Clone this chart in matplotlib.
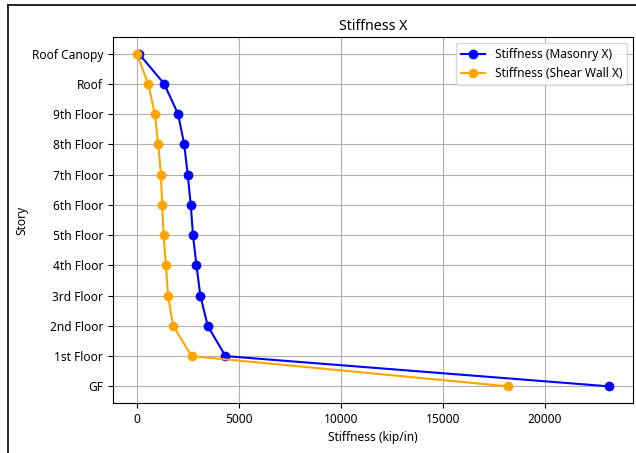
import matplotlib
matplotlib.use("Agg")
import matplotlib.pyplot as plt
from matplotlib.lines import Line2D

stories = ["GF", "1st Floor", "2nd Floor", "3rd Floor", "4th Floor", "5th Floor",
           "6th Floor", "7th Floor", "8th Floor", "9th Floor", "Roof", "Roof Canopy"]
masonry_x = [23150, 4350, 3480, 3120, 2930, 2760, 2650, 2500, 2330, 2030, 1350, 110]
shear_wall_x = [18190, 2690, 1790, 1540, 1430, 1320, 1250, 1190, 1060, 890, 570, 0]

plt.rcParams['font.family'] = ['Noto Sans', 'DejaVu Sans']
plt.rcParams['font.size'] = 8.6

fig = plt.figure(figsize=(6.36, 4.53), dpi=100)
ax = fig.add_axes([113/636, 1-403/453, (633-113)/636, (403-37)/453])

ax.plot(masonry_x, stories, marker='o', color='blue', label='Stiffness (Masonry X)')
ax.plot(shear_wall_x, stories, marker='o', color='orange', label='Stiffness (Shear Wall X)')

ax.set_title("Stiffness X", fontsize=10.2, pad=5)
ax.set_xlabel("Stiffness (kip/in)")
ax.set_ylabel("Story")
ax.yaxis.set_label_coords(-0.163, 0.5)
ax.grid(True)
ax.legend(loc='upper right')

# screenshot frame lines
fig.add_artist(Line2D([8/636, 8/636], [0, 1-4.5/453], transform=fig.transFigure, color='black', lw=1.2))
fig.add_artist(Line2D([8/636, 1], [1-4.5/453, 1-4.5/453], transform=fig.transFigure, color='black', lw=1.2))

fig.savefig("out.png", dpi=100)
